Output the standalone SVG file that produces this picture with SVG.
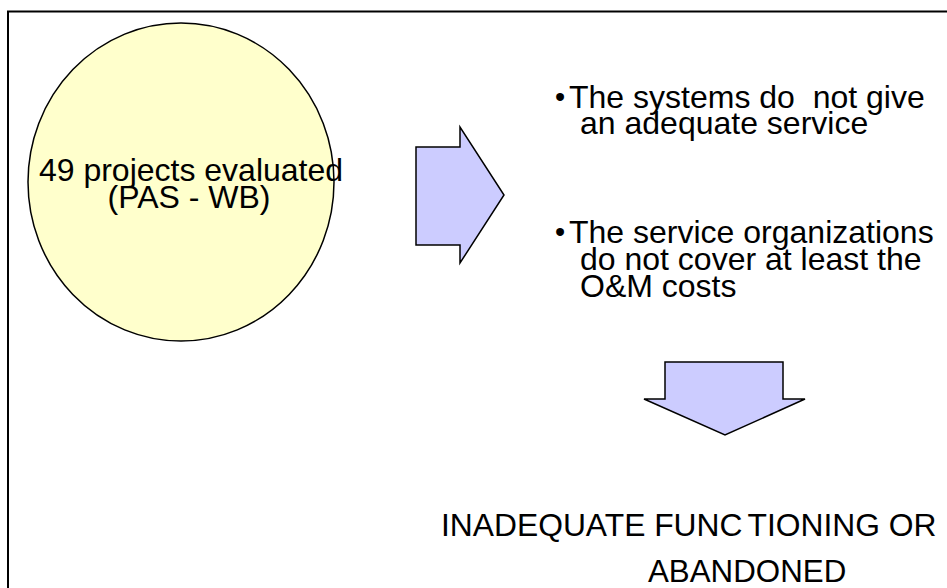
<svg xmlns="http://www.w3.org/2000/svg" width="947" height="588" viewBox="0 0 947 588">
<style>
  .t { font-family: "Liberation Sans", Arial, sans-serif; font-size: 32px; fill: #000; }
  .b { font-family: "Liberation Sans", Arial, sans-serif; font-size: 29px; fill: #000; }
  .arrow { fill: #CCCCFF; stroke: #000; stroke-width: 1.5; stroke-linejoin: miter; }
</style>
<rect width="947" height="588" fill="#fff"/>
<rect id="frame" x="8" y="11.5" width="960" height="600" fill="none" stroke="#000" stroke-width="2"/>
<g id="projects">
  <ellipse cx="181" cy="182" rx="153" ry="159" fill="#FFFFCC" stroke="#000" stroke-width="1.5"/>
  <text class="t" x="191" y="181" text-anchor="middle">49 projects evaluated</text>
  <text class="t" x="189" y="208" text-anchor="middle">(PAS - WB)</text>
</g>
<g id="connectors">
  <polygon id="arrow-right" class="arrow" points="416,147 460,147 460,127 504,195 460,263 460,245 416,245"/>
  <polygon id="arrow-down" class="arrow" points="665,362 783,362 783,399 805,399 725,435 644,399 665,399"/>
</g>
<g id="findings">
  <text class="b" x="555" y="107">•</text>
  <text class="t" x="569" y="108" xml:space="preserve">The systems do  not give</text>
  <text class="t" x="580" y="134">an adequate service</text>
  <text class="b" x="555" y="242">•</text>
  <text class="t" x="569" y="243">The service organizations</text>
  <text class="t" x="580" y="270">do not cover at least the</text>
  <text class="t" x="580" y="297">O&amp;M costs</text>
</g>
<g id="result">
  <text class="t" x="441" y="536" style="font-size:31.8px">INADEQUATE FUNC<tspan dx="5">TIONING OR</tspan></text>
  <text class="t" x="648" y="582" style="font-size:31.3px">ABANDONED</text>
</g>
</svg>
